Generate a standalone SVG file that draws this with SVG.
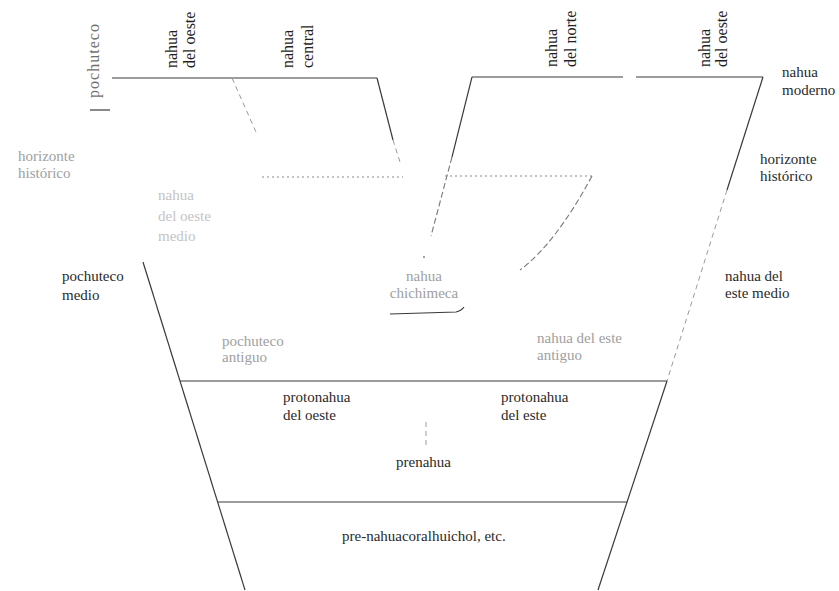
<svg xmlns="http://www.w3.org/2000/svg" width="839" height="591" viewBox="0 0 839 591" font-family="'Liberation Serif', Tinos, 'Noto Serif', 'DejaVu Serif', FreeSerif, 'Times New Roman', Times, serif">
<style>
text{font-family:'Liberation Serif',Tinos,'Noto Serif','DejaVu Serif',FreeSerif,'Times New Roman',Times,serif;font-size:15px;fill:#2a2a2a}
.rot{font-size:16px;fill:#1e1e1e}
.faded{fill:#a0a0a0}
.mid{fill:#707070}
.vfaded{fill:#c4c4c4}
.ln{stroke:#3a3a3a;stroke-width:1.2;fill:none}
.fl{stroke:#9a9a9a;stroke-width:1;fill:none;stroke-dasharray:5 4}
.dot{stroke:#8a8a8a;stroke-width:1.2;fill:none;stroke-dasharray:2 3}
.dash{stroke:#777;stroke-width:1.1;fill:none;stroke-dasharray:6 3}
</style>
<rect width="839" height="591" fill="#ffffff"/>
<g id="connectors">
  <line class="ln" x1="112" y1="78" x2="377" y2="78"/>
  <line class="ln" x1="377" y1="78" x2="393" y2="140"/>
  <line class="fl" x1="393" y1="140" x2="400" y2="162"/>
  <line class="fl" x1="232" y1="78" x2="256" y2="132"/>
  <line class="ln" x1="90" y1="110" x2="110" y2="110"/>
  <line class="ln" x1="472" y1="77" x2="623" y2="77"/>
  <line class="ln" x1="636" y1="77" x2="763" y2="77"/>
  <line class="ln" x1="472" y1="77" x2="452" y2="157"/>
  <line class="dash" x1="452" y1="157" x2="431" y2="236"/>
  <circle cx="424" cy="257" r="0.9" fill="#777"/>
  <line class="ln" x1="763" y1="77" x2="727" y2="190"/>
  <line class="fl" x1="727" y1="190" x2="667" y2="381"/>
  <line class="ln" x1="667" y1="381" x2="598" y2="590"/>
  <line class="dot" x1="262" y1="177" x2="403" y2="177"/>
  <line class="dot" x1="445" y1="176" x2="592" y2="176"/>
  <path class="dash" d="M592,176 Q556,243 520,270"/>
  <path class="ln" d="M390,314 L456,312 Q461,311 464,307" stroke="#666"/>
  <line class="ln" x1="143" y1="262" x2="245" y2="590"/>
  <line class="ln" x1="180" y1="381" x2="667" y2="381"/>
  <line class="ln" x1="218" y1="502" x2="627" y2="502"/>
  <line class="fl" x1="426" y1="422" x2="426" y2="445"/>
</g>
<g id="pochuteco"><text class="rot mid" transform="translate(99,98) rotate(-90)" textLength="74">pochuteco</text></g>
<g id="nahua-del-oeste-1"><text class="rot" transform="translate(177,68) rotate(-90)">nahua</text><text class="rot" transform="translate(195,68) rotate(-90)">del oeste</text></g>
<g id="nahua-central"><text class="rot" transform="translate(293,68) rotate(-90)">nahua</text><text class="rot" transform="translate(313,68) rotate(-90)">central</text></g>
<g id="nahua-del-norte"><text class="rot" transform="translate(557,67) rotate(-90)">nahua</text><text class="rot" transform="translate(576,67) rotate(-90)">del norte</text></g>
<g id="nahua-del-oeste-2"><text class="rot" transform="translate(710,67) rotate(-90)">nahua</text><text class="rot" transform="translate(727,67) rotate(-90)">del oeste</text></g>
<g id="nahua-moderno"><text x="782" y="77">nahua</text><text x="782" y="95">moderno</text></g>
<g id="horizonte-historico-der"><text x="760" y="164">horizonte</text><text x="760" y="181">histórico</text></g>
<g id="horizonte-historico-izq"><text class="faded" x="18" y="161">horizonte</text><text class="faded" x="18" y="178">histórico</text></g>
<g id="nahua-del-oeste-medio"><text class="vfaded" x="158" y="200">nahua</text><text class="vfaded" x="158" y="221">del oeste</text><text class="vfaded" x="158" y="241">medio</text></g>
<g id="pochuteco-medio"><text x="62" y="281">pochuteco</text><text x="62" y="300">medio</text></g>
<g id="nahua-chichimeca"><text class="faded" x="424" y="281" text-anchor="middle">nahua</text><text class="faded" x="424" y="298" text-anchor="middle">chichimeca</text></g>
<g id="nahua-del-este-medio"><text x="725" y="281">nahua del</text><text x="725" y="298">este medio</text></g>
<g id="pochuteco-antiguo"><text class="faded" x="222" y="346">pochuteco</text><text class="faded" x="222" y="362">antiguo</text></g>
<g id="nahua-del-este-antiguo"><text class="faded" x="537" y="343">nahua del este</text><text class="faded" x="537" y="360">antiguo</text></g>
<g id="protonahua-del-oeste"><text x="283" y="402">protonahua</text><text x="283" y="420">del oeste</text></g>
<g id="protonahua-del-este"><text x="501" y="402">protonahua</text><text x="501" y="420">del este</text></g>
<g id="prenahua"><text x="396" y="467">prenahua</text></g>
<g id="pre-nahua"><text x="342" y="541">pre-nahuacoralhuichol, etc.</text></g>
</svg>
